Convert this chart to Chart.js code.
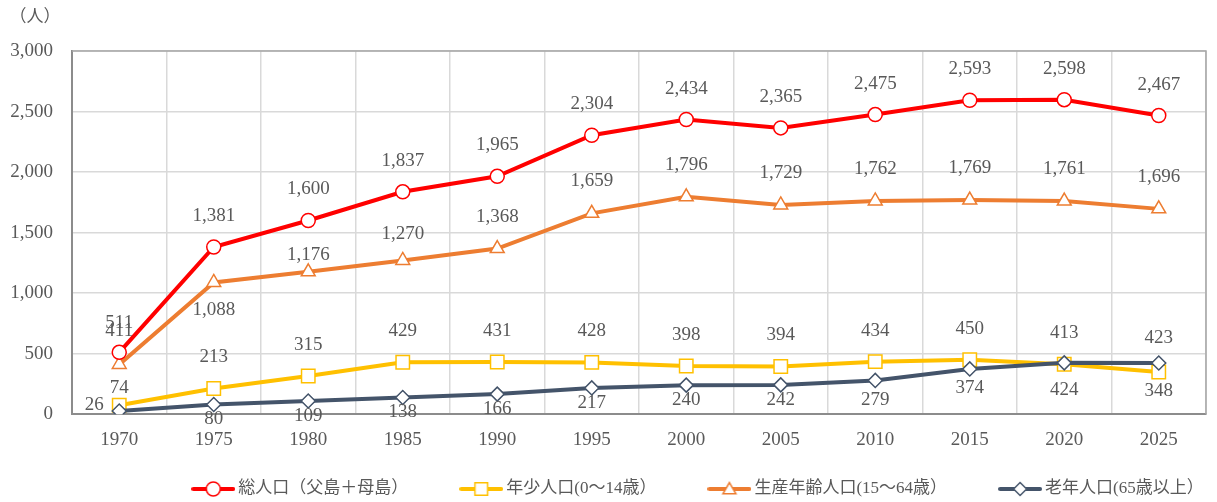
<!DOCTYPE html>
<html>
<head>
<meta charset="utf-8">
<script src="https://cdn.jsdelivr.net/npm/chart.js@4.4.0/dist/chart.umd.min.js"></script>
<style>
  html, body { margin: 0; padding: 0; background: #fff; }
  #wrap { width: 1217px; height: 502px; }
</style>
</head>
<body>
<div id="wrap"><canvas id="c"></canvas></div>
<script>
const years = ["1970", "1975", "1980", "1985", "1990", "1995", "2000", "2005", "2010", "2015", "2020", "2025"];
const total = [511, 1381, 1600, 1837, 1965, 2304, 2434, 2365, 2475, 2593, 2598, 2467];
const young = [74, 213, 315, 429, 431, 428, 398, 394, 434, 450, 413, 348];
const working = [411, 1088, 1176, 1270, 1368, 1659, 1796, 1729, 1762, 1769, 1761, 1696];
const elderly = [26, 80, 109, 138, 166, 217, 240, 242, 279, 374, 424, 423];
const seriesNames = ["総人口（父島＋母島）", "年少人口(0～14歳）", "生産年齢人口(15～64歳）", "老年人口(65歳以上）"];
const yUnit = "（人）";

const textColor = "#595959";
const numFont = '"Liberation Serif", "Times New Roman", serif';
const jpFont = '"Liberation Serif", "Noto Sans CJK JP", sans-serif';

// label placement relative to the point: default dy per series, a few moved by hand
const labelShift = [
    { dy: -31, at: { 0: [0, -29] } },
    { dy: -31, at: { 0: [0, -17], 11: [0, 19] } },
    { dy: -32, at: { 0: [0, -33], 1: [0, 28], 2: [0, -17], 3: [0, -26] } },
    { dy: 15, at: { 0: [-25, -6], 8: [0, 20], 9: [0, 19], 10: [0, 27], 11: [0, -25] } },
];

function legendIcon(color, style, r) {
    const c = document.createElement("canvas");
    c.width = 44;
    c.height = 20;
    const ctx = c.getContext("2d");
    ctx.strokeStyle = color;
    ctx.lineWidth = 4;
    ctx.lineCap = "round";
    ctx.beginPath();
    ctx.moveTo(2, 10);
    ctx.lineTo(42, 10);
    ctx.stroke();
    ctx.fillStyle = "#fff";
    ctx.lineWidth = 1.5;
    Chart.helpers.drawPoint(ctx, { pointStyle: style, radius: r, borderWidth: 1.5 }, 22, style === "triangle" ? 11 : 10);
    return c;
}

const icons = [
    legendIcon("#ff0000", "circle", 7),
    legendIcon("#ffc000", "rect", 9),
    legendIcon("#ed7d31", "triangle", 7.5),
    legendIcon("#44546a", "rectRot", 6.5),
];

const pointLabels = {
    id: "pointLabels",
    beforeDatasetsDraw(chart) {
        const { ctx, chartArea: a } = chart;
        ctx.save();
        ctx.strokeStyle = "#a6a6a6";
        ctx.lineWidth = 1.5;
        ctx.beginPath();
        ctx.moveTo(a.left, a.top);
        ctx.lineTo(a.right, a.top);
        ctx.lineTo(a.right, a.bottom);
        ctx.stroke();
        ctx.restore();
    },
    afterDatasetsDraw(chart) {
        const ctx = chart.ctx;
        ctx.save();
        ctx.font = "19px " + numFont;
        ctx.fillStyle = textColor;
        ctx.textAlign = "center";
        ctx.textBaseline = "middle";
        chart.data.datasets.forEach((ds, i) => {
            const meta = chart.getDatasetMeta(i);
            const s = labelShift[i];
            meta.data.forEach((pt, j) => {
                const off = s.at[j] || [0, s.dy];
                ctx.fillText(ds.data[j].toLocaleString("en-US"), pt.x + off[0], pt.y + off[1]);
            });
        });
        ctx.font = "17px " + jpFont;
        ctx.fillText(yUnit, 35, 18);

        // legend: line + marker, then text
        const gap = 52;
        const widths = chart.data.datasets.map((ds) => 46 + ctx.measureText(ds.label).width);
        const full = widths.reduce((s, w) => s + w, 0) + gap * (widths.length - 1);
        let x = 698 - full / 2;
        const y = 489;
        ctx.textAlign = "left";
        chart.data.datasets.forEach((ds, i) => {
            ctx.drawImage(icons[i], x - 1, y - 10);
            ctx.fillText(ds.label, x + 46, y);
            x += widths[i] + gap;
        });
        ctx.restore();
    },
};

new Chart(document.getElementById("c"), {
    type: "line",
    data: {
        labels: years,
        datasets: [
            {
                label: seriesNames[0],
                data: total,
                borderColor: "#ff0000",
                borderWidth: 4,
                pointStyle: "circle",
                pointRadius: 7,
                pointBorderWidth: 1.5,
                pointBackgroundColor: "#fff",
                pointBorderColor: "#ff0000",
                order: 0,
            },
            {
                label: seriesNames[1],
                data: young,
                borderColor: "#ffc000",
                borderWidth: 4,
                pointStyle: "rect",
                pointRadius: 9.5,
                pointBorderWidth: 1.5,
                pointBackgroundColor: "#fff",
                pointBorderColor: "#ffc000",
                order: 3,
            },
            {
                label: seriesNames[2],
                data: working,
                borderColor: "#ed7d31",
                borderWidth: 4,
                pointStyle: "triangle",
                pointRadius: 8,
                pointBorderWidth: 1.5,
                pointBackgroundColor: "#fff",
                pointBorderColor: "#ed7d31",
                order: 2,
            },
            {
                label: seriesNames[3],
                data: elderly,
                borderColor: "#44546a",
                borderWidth: 4,
                pointStyle: "rectRot",
                pointRadius: 7,
                pointBorderWidth: 1.5,
                pointBackgroundColor: "#fff",
                pointBorderColor: "#44546a",
                order: 1,
            },
        ],
    },
    options: {
        responsive: true,
        maintainAspectRatio: false,
        animation: false,
        layout: { padding: { top: 51, right: 8, left: 0, bottom: 37 } },
        plugins: {
            tooltip: { enabled: false },
            legend: { display: false },
        },
        scales: {
            x: {
                offset: true,
                grid: { offset: true, color: "#d9d9d9", lineWidth: 1.5, drawTicks: false },
                border: { color: "#8c8c8c", width: 2 },
                ticks: { color: textColor, font: { family: numFont, size: 19 }, padding: 14 },
            },
            y: {
                min: 0,
                max: 3000,
                afterFit: (scale) => { scale.width = 72; },
                grid: { color: "#d9d9d9", lineWidth: 1.5, drawTicks: false },
                border: { color: "#8c8c8c", width: 2 },
                ticks: {
                    stepSize: 500,
                    color: textColor,
                    font: { family: numFont, size: 19 },
                    padding: 19,
                    callback: (v) => v.toLocaleString("en-US"),
                },
            },
        },
    },
    plugins: [pointLabels],
});
</script>
</body>
</html>
